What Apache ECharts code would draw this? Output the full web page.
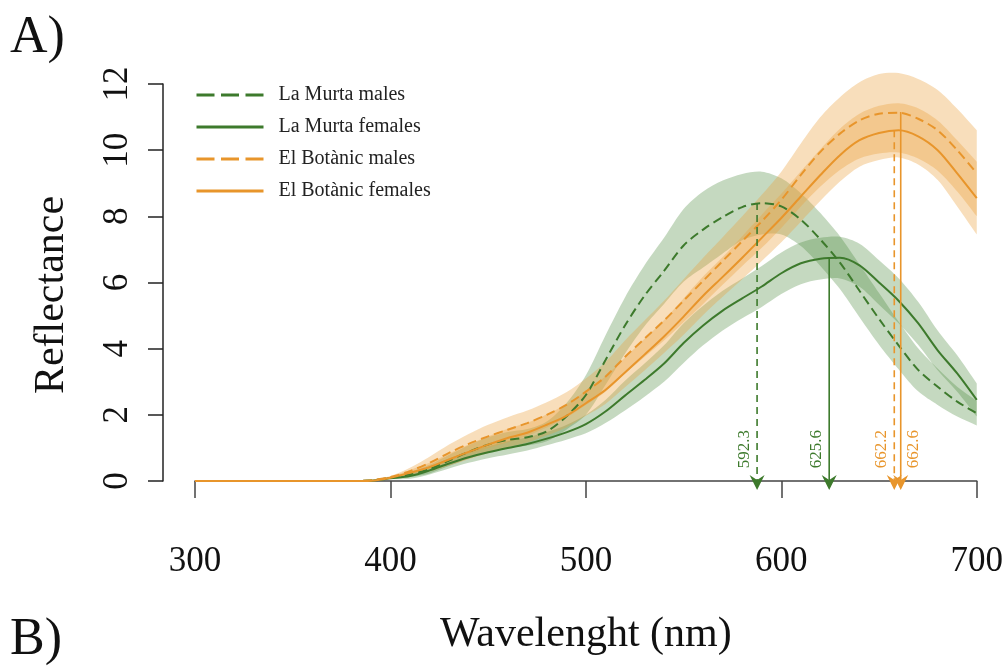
<!DOCTYPE html>
<html>
<head>
<meta charset="utf-8">
<script src="https://cdn.jsdelivr.net/npm/echarts@6/dist/echarts.min.js"></script>
<style>
html,body{margin:0;padding:0;background:#fff;}
#main{width:1006px;height:666px;}
</style>
</head>
<body>
<div id="main"></div>
<script>
// wavelength grid (nm), 10 nm steps
var wavelength = [300,310,320,330,340,350,360,370,380,390,400,410,420,430,440,450,460,470,480,490,500,
	510,520,530,540,550,560,570,580,590,600,610,620,630,640,650,660,670,680,690,700];

// mean reflectance curves
var lmMales = [0,0,0,0,0,0,0,0,0,0.02,0.1,0.2,0.36,0.62,0.88,1.1,1.24,1.32,1.5,1.95,2.6,
	3.65,4.7,5.6,6.35,7.12,7.6,7.98,8.28,8.4,8.3,7.9,7.3,6.6,5.75,4.9,4.1,3.36,2.85,2.4,2.05];
var lmFemales = [0,0,0,0,0,0,0,0,0,0.01,0.08,0.15,0.32,0.53,0.72,0.87,1.0,1.12,1.28,1.47,1.72,
	2.1,2.58,3.05,3.55,4.17,4.7,5.15,5.52,5.88,6.28,6.58,6.72,6.75,6.52,6.0,5.45,4.77,3.95,3.25,2.45];
var ebMales = [0,0,0,0,0,0,0,0,0,0.02,0.12,0.3,0.55,0.85,1.12,1.35,1.55,1.75,2.0,2.3,2.7,
	3.15,3.75,4.3,4.85,5.45,6.05,6.65,7.25,7.85,8.5,9.25,9.95,10.5,10.9,11.1,11.13,10.95,10.6,10.0,9.3];
var ebFemales = [0,0,0,0,0,0,0,0,0,0.01,0.1,0.25,0.42,0.65,0.88,1.1,1.3,1.46,1.7,1.97,2.35,
	2.75,3.28,3.82,4.37,4.97,5.6,6.17,6.75,7.35,7.95,8.6,9.25,9.85,10.3,10.52,10.6,10.42,10.0,9.3,8.55];

// half widths of the shaded bands
var lmMalesSE = [0,0,0,0,0,0,0,0,0,0,0.03,0.08,0.13,0.17,0.2,0.22,0.24,0.25,0.3,0.4,0.6,
	0.75,0.85,0.92,1.0,1.1,1.15,1.1,1.0,0.95,0.85,0.8,0.8,0.8,0.8,0.78,0.72,0.65,0.55,0.45,0.37];
var lmFemalesSE = [0,0,0,0,0,0,0,0,0,0,0.03,0.08,0.12,0.15,0.17,0.18,0.2,0.2,0.2,0.22,0.28,
	0.35,0.45,0.5,0.55,0.6,0.6,0.6,0.6,0.62,0.63,0.63,0.63,0.63,0.65,0.67,0.68,0.65,0.6,0.55,0.5];
var ebMalesSE = [0,0,0,0,0,0,0,0,0,0,0.03,0.1,0.18,0.25,0.3,0.35,0.38,0.38,0.38,0.38,0.4,
	0.45,0.5,0.55,0.6,0.65,0.7,0.72,0.75,0.8,0.85,0.95,1.05,1.1,1.15,1.2,1.2,1.2,1.22,1.25,1.3];
var ebFemalesSE = [0,0,0,0,0,0,0,0,0,0,0.03,0.08,0.13,0.18,0.22,0.25,0.28,0.3,0.32,0.35,0.38,
	0.42,0.45,0.48,0.5,0.55,0.58,0.6,0.65,0.7,0.73,0.76,0.78,0.8,0.8,0.82,0.82,0.85,0.9,1.0,1.1];

// peak arrows
var peakLabels = ['592.3','625.6','662.2','662.6'];
var peakX = [587.6, 624.5, 657.8, 661.1];
var peakTop = [8.4, 6.75, 10.6, 11.15];

var names = ['La Murta males','La Murta females','El Botànic males','El Botànic females'];

var GREEN = '#3d7a2c';
var ORANGE = '#e8952b';
var FONT = '"Liberation Serif", "DejaVu Serif", serif';

var chart = echarts.init(document.getElementById('main'));

function pairs(vals){
	return wavelength.map(function(w,i){ return [w, vals[i]]; });
}

// shaded band (mean +- se) drawn as one smoothed polygon
function band(mean, se, fill){
	return {
		type:'custom', silent:true, clip:false, z:1,
		data:[[wavelength[0], 0]],
		renderItem:function(params, api){
			var up = [], lo = [];
			for (var i = 0; i < wavelength.length; i++){
				up.push(api.coord([wavelength[i], mean[i] + se[i]]));
				lo.push(api.coord([wavelength[i], mean[i] - se[i]]));
			}
			var n = up.length;
			// repeat the end corners so the smoothing keeps them sharp
			var pts = [up[0]].concat(up, [up[n-1], lo[n-1]], lo.slice().reverse(), [lo[0]]);
			return {
				type:'polygon',
				shape:{points:pts, smooth:0.3},
				style:{fill:fill}
			};
		}
	};
}

function meanLine(name, vals, color, dashed){
	return {
		type:'line', name:name, data:pairs(vals), smooth:0.3, symbol:'none', clip:false, z:3,
		lineStyle:{color:color, width:2, type: dashed ? [9,5] : 'solid'},
		itemStyle:{color:color}
	};
}

var series = [
	band(lmMales, lmMalesSE, 'rgba(74,138,60,0.32)'),
	band(lmFemales, lmFemalesSE, 'rgba(74,138,60,0.32)'),
	band(ebMales, ebMalesSE, 'rgba(236,160,60,0.35)'),
	band(ebFemales, ebFemalesSE, 'rgba(236,160,60,0.35)'),
	meanLine(names[0], lmMales, GREEN, true),
	meanLine(names[1], lmFemales, GREEN, false),
	meanLine(names[2], ebMales, ORANGE, true),
	meanLine(names[3], ebFemales, ORANGE, false)
];

// arrows from each peak down to the axis, with the peak wavelength
var arrowColors = [GREEN, GREEN, ORANGE, ORANGE];
var arrowDashed = [true, false, true, false];
var labelSide = [-1, -1, -1, 1];
series.push({
	type:'custom', silent:true, clip:false, z:4,
	data: peakX.map(function(x,i){ return [x, peakTop[i]]; }),
	renderItem:function(params, api){
		var k = params.dataIndex;
		var top = api.coord([api.value(0), api.value(1)]);
		var base = api.coord([api.value(0), 0]);
		var x = top[0], tipY = base[1] + 9;
		var color = arrowColors[k];
		return {
			type:'group',
			children:[{
				type:'line',
				shape:{x1:x, y1:top[1], x2:x, y2:tipY - 9},
				style:{stroke:color, lineWidth:1.6, lineDash: arrowDashed[k] ? [7,5] : null}
			},{
				type:'polygon',
				shape:{points:[[x, tipY],[x - 7.5, tipY - 15],[x, tipY - 10],[x + 7.5, tipY - 15]]},
				style:{fill:color}
			},{
				type:'text',
				x:x + 13*labelSide[k], y:base[1] - 32, rotation:Math.PI/2,
				style:{text:peakLabels[k], fill:color, font:'17px ' + FONT, align:'center', verticalAlign:'middle'}
			}]
		};
	}
});

var option = {
	animation:false,
	backgroundColor:'#fff',
	grid:{left:195, right:25, top:84, bottom:185, containLabel:false},
	legend:{
		data:[
			{name:names[0], lineStyle:{type:[18,6.5]}},
			{name:names[1]},
			{name:names[2], lineStyle:{type:[18,6.5]}},
			{name:names[3]}
		],
		orient:'vertical', left:195, top:85,
		itemWidth:67, itemHeight:14, itemGap:12, padding:0,
		itemStyle:{opacity:0, borderWidth:0},
		lineStyle:{width:3},
		textStyle:{fontFamily:FONT, fontSize:20, color:'#222', padding:[0,0,0,10]}
	},
	xAxis:{
		type:'value', min:300, max:700, interval:100, offset:15,
		axisLine:{show:true, lineStyle:{color:'#444', width:1.5}},
		axisTick:{show:true, length:17, lineStyle:{color:'#444', width:1.5}},
		axisLabel:{margin:48, fontFamily:FONT, fontSize:35, color:'#111'},
		splitLine:{show:false},
		name:'Wavelenght (nm)', nameLocation:'middle', nameGap:118,
		nameTextStyle:{fontFamily:FONT, fontSize:42, color:'#111'}
	},
	yAxis:{
		type:'value', min:0, max:12, interval:2, offset:32,
		axisLine:{show:true, lineStyle:{color:'#222', width:1.5}},
		axisTick:{show:true, length:15, lineStyle:{color:'#222', width:1.5}},
		axisLabel:{margin:28, rotate:90, fontFamily:FONT, fontSize:35, color:'#111'},
		splitLine:{show:false}
	},
	graphic:[
		{type:'text', left:10, top:12, style:{text:'A)', font:'52px ' + FONT, fill:'#111'}},
		{type:'text', left:10, top:614, style:{text:'B)', font:'52px ' + FONT, fill:'#111'}},
		{type:'text', x:52, y:295, rotation:Math.PI/2,
			style:{text:'Reflectance', font:'42px ' + FONT, fill:'#111', align:'center', verticalAlign:'middle'}}
	],
	series:series
};

chart.setOption(option);
</script>
</body>
</html>
